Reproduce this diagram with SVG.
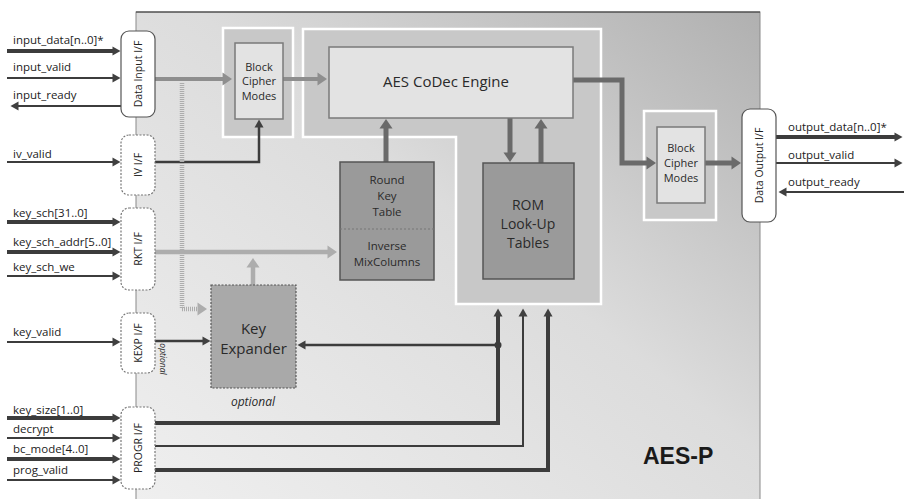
<svg xmlns="http://www.w3.org/2000/svg" width="904" height="499" viewBox="0 0 904 499">
<defs>
  <linearGradient id="bg" x1="0" y1="1" x2="1" y2="0">
    <stop offset="0" stop-color="#efefef"/>
    <stop offset="0.55" stop-color="#dcdcdc"/>
    <stop offset="1" stop-color="#b0b0b0"/>
  </linearGradient>
  <marker id="ad" markerUnits="userSpaceOnUse" markerWidth="9" markerHeight="10" refX="0.5" refY="5" orient="auto" overflow="visible">
    <path d="M0,0.5 L8,5 L0,9.5 z" fill="#404040"/>
  </marker>
  <marker id="ag" markerUnits="userSpaceOnUse" markerWidth="10" markerHeight="13" refX="0.5" refY="6.5" orient="auto" overflow="visible">
    <path d="M0,0 L9.5,6.5 L0,13 z" fill="#6a6a6a"/>
  </marker>
  <marker id="am" markerUnits="userSpaceOnUse" markerWidth="10" markerHeight="13" refX="0.5" refY="6.5" orient="auto" overflow="visible">
    <path d="M0,0 L9.5,6.5 L0,13 z" fill="#8e8e8e"/>
  </marker>
  <marker id="al" markerUnits="userSpaceOnUse" markerWidth="10" markerHeight="13" refX="0.5" refY="6.5" orient="auto" overflow="visible">
    <path d="M0,0 L9.5,6.5 L0,13 z" fill="#adadad"/>
  </marker>
</defs>
<style>
  .sig { font-family: "Open Sans", "Liberation Sans", sans-serif; font-size: 11.5px; fill: #222; }
  .lbl { font-family: "Open Sans", "Liberation Sans", sans-serif; fill: #2a2a2a; text-anchor: middle; }
  .ifl { font-family: "Open Sans", "Liberation Sans", sans-serif; font-size: 10.5px; fill: #222; text-anchor: middle; }
  .ifs { fill: #ffffff; stroke: #555; stroke-width: 1.2; }
  .ifd { fill: #ffffff; stroke: #777; stroke-width: 1.2; stroke-dasharray: 2 1.5; }
  .wire { fill: none; stroke: #3c3c3c; }
  .thick { stroke-width: 4; }
  .thin { stroke-width: 2; }
  .gwire { fill: none; stroke: #6a6a6a; stroke-width: 5; }
  .mwire { fill: none; stroke: #8e8e8e; stroke-width: 4; }
  .lwire { fill: none; stroke: #adadad; stroke-width: 4.5; }
  .region { fill: #c8c8c8; stroke: #ffffff; stroke-width: 2.5; }
  .light { fill: #e3e3e3; stroke: #7a7a7a; stroke-width: 1.5; }
  .dark { fill: #9a9a9a; stroke: #555; stroke-width: 1.5; }
</style>

<g id="main-box">
  <rect x="136" y="12" width="624" height="490" fill="url(#bg)" stroke="#8a8a8a" stroke-width="1"/>
  <line x1="136" y1="12" x2="760" y2="12" stroke="#333" stroke-width="1.2"/>
  <text x="643" y="464" font-family="Liberation Sans, Arial, sans-serif" font-weight="bold" font-size="23" fill="#1a1a1a">AES-P</text>
</g>

<g id="regions">
  <rect class="region" x="223" y="28" width="70" height="109"/>
  <polygon class="region" points="303,29 601,29 601,304 456,304 456,137 303,137"/>
  <rect class="region" x="644" y="111" width="72" height="109"/>
</g>

<g id="connectors">
  <!-- left inputs -->
  <line class="wire thick" x1="7" y1="51" x2="113" y2="51" marker-end="url(#ad)"/>
  <line class="wire thin" x1="7" y1="78" x2="113" y2="78" marker-end="url(#ad)"/>
  <line class="wire thin" x1="121" y1="106" x2="18" y2="106" marker-end="url(#ad)"/>
  <line class="wire thin" x1="7" y1="162" x2="113" y2="162" marker-end="url(#ad)"/>
  <line class="wire thick" x1="7" y1="222" x2="113" y2="222" marker-end="url(#ad)"/>
  <line class="wire thick" x1="7" y1="252" x2="113" y2="252" marker-end="url(#ad)"/>
  <line class="wire thin" x1="7" y1="276" x2="113" y2="276" marker-end="url(#ad)"/>
  <line class="wire thin" x1="7" y1="342" x2="113" y2="342" marker-end="url(#ad)"/>
  <line class="wire thick" x1="7" y1="418" x2="113" y2="418" marker-end="url(#ad)"/>
  <line class="wire thin" x1="7" y1="438" x2="113" y2="438" marker-end="url(#ad)"/>
  <line class="wire thick" x1="7" y1="459" x2="113" y2="459" marker-end="url(#ad)"/>
  <line class="wire thin" x1="7" y1="480" x2="113" y2="480" marker-end="url(#ad)"/>
  <!-- right outputs -->
  <line class="wire thick" x1="776" y1="137" x2="895" y2="137" marker-end="url(#ad)"/>
  <line class="wire thin" x1="776" y1="163" x2="895" y2="163" marker-end="url(#ad)"/>
  <line class="wire thin" x1="904" y1="192" x2="786" y2="192" marker-end="url(#ad)"/>
  <!-- data path -->
  <line class="mwire" x1="155" y1="79" x2="223" y2="79" marker-end="url(#am)"/>
  <line class="mwire" x1="283" y1="79" x2="318" y2="79" marker-end="url(#am)"/>
  <path class="gwire" d="M573,80 H622 V163 H647" marker-end="url(#ag)"/>
  <line class="gwire" x1="705" y1="163" x2="732" y2="163" marker-end="url(#ag)"/>
  <line class="gwire" x1="386" y1="162" x2="386" y2="128" marker-end="url(#ag)"/>
  <line class="gwire" x1="510" y1="118" x2="510" y2="153" marker-end="url(#ag)"/>
  <line class="gwire" x1="541" y1="163" x2="541" y2="128" marker-end="url(#ag)"/>
  <!-- IV path -->
  <path class="wire" stroke-width="2.5" d="M155,162 H259 V127" marker-end="url(#ad)"/>
  <!-- round key path -->
  <line class="lwire" x1="155" y1="252" x2="328" y2="252" marker-end="url(#al)"/>
  <line class="lwire" x1="253" y1="285" x2="253" y2="267" marker-end="url(#al)"/>
  <path class="lwire" stroke-dasharray="1 1" d="M182,83 V309 H198" marker-end="url(#al)"/>
  <!-- key expander inputs -->
  <line class="wire" stroke-width="2.5" x1="155" y1="341" x2="203" y2="341" marker-end="url(#ad)"/>
  <line class="wire" stroke-width="2.5" x1="498" y1="345" x2="305" y2="345" marker-end="url(#ad)"/>
  <circle cx="498" cy="345" r="3.5" fill="#3c3c3c"/>
  <!-- program lines -->
  <path class="wire thick" d="M155,423 H498 V316" marker-end="url(#ad)"/>
  <path class="wire thin" d="M155,446 H523 V316" marker-end="url(#ad)"/>
  <path class="wire thick" d="M155,470 H548 V316" marker-end="url(#ad)"/>
</g>

<g id="signal-labels">
  <text class="sig" x="13" y="44">input_data[n..0]*</text>
  <text class="sig" x="13" y="71">input_valid</text>
  <text class="sig" x="13" y="99">input_ready</text>
  <text class="sig" x="13" y="158">iv_valid</text>
  <text class="sig" x="13" y="217">key_sch[31..0]</text>
  <text class="sig" x="13" y="246">key_sch_addr[5..0]</text>
  <text class="sig" x="13" y="271">key_sch_we</text>
  <text class="sig" x="13" y="336">key_valid</text>
  <text class="sig" x="13" y="414">key_size[1..0]</text>
  <text class="sig" x="13" y="433">decrypt</text>
  <text class="sig" x="13" y="453">bc_mode[4..0]</text>
  <text class="sig" x="13" y="474">prog_valid</text>
  <text class="sig" x="788" y="131">output_data[n..0]*</text>
  <text class="sig" x="788" y="159">output_valid</text>
  <text class="sig" x="788" y="186">output_ready</text>
</g>

<g id="data-input-if">
  <rect class="ifs" x="121" y="31" width="34" height="86" rx="8"/>
  <text class="ifl" transform="translate(141.5,74) rotate(-90)">Data Input I/F</text>
</g>
<g id="iv-if">
  <rect class="ifd" x="121" y="135" width="34" height="60" rx="8"/>
  <text class="ifl" transform="translate(141.5,165) rotate(-90)">IV I/F</text>
</g>
<g id="rkt-if">
  <rect class="ifd" x="121" y="208" width="34" height="82" rx="8"/>
  <text class="ifl" transform="translate(141.5,249) rotate(-90)">RKT I/F</text>
</g>
<g id="kexp-if">
  <rect class="ifd" x="121" y="313" width="34" height="60" rx="8"/>
  <text class="ifl" transform="translate(141.5,343) rotate(-90)">KEXP I/F</text>
  <text class="lbl" font-size="8.5" font-style="italic" transform="translate(160,359) rotate(90)">optional</text>
</g>
<g id="progr-if">
  <rect class="ifd" x="121" y="407" width="34" height="82" rx="8"/>
  <text class="ifl" transform="translate(141.5,448) rotate(-90)">PROGR I/F</text>
</g>
<g id="data-output-if">
  <rect class="ifs" x="742" y="109" width="34" height="113" rx="8"/>
  <text class="ifl" transform="translate(762.5,165.5) rotate(-90)">Data Output I/F</text>
</g>

<g id="bcm-in">
  <rect class="light" x="235" y="43" width="48" height="76"/>
  <text class="lbl" font-size="11" x="259" y="71">Block</text>
  <text class="lbl" font-size="11" x="259" y="85">Cipher</text>
  <text class="lbl" font-size="11" x="259" y="100">Modes</text>
</g>
<g id="aes-engine">
  <rect class="light" x="329" y="47" width="244" height="71"/>
  <text class="lbl" font-size="15" x="446" y="87">AES CoDec Engine</text>
</g>
<g id="round-key-table">
  <rect class="dark" x="340" y="162" width="94" height="118"/>
  <line x1="340" y1="229" x2="434" y2="229" stroke="#777" stroke-width="1" stroke-dasharray="2 2"/>
  <text class="lbl" font-size="11.5" x="387" y="184">Round</text>
  <text class="lbl" font-size="11.5" x="387" y="200">Key</text>
  <text class="lbl" font-size="11.5" x="387" y="216">Table</text>
  <text class="lbl" font-size="11.5" x="387" y="250">Inverse</text>
  <text class="lbl" font-size="11.5" x="387" y="266">MixColumns</text>
</g>
<g id="rom-tables">
  <rect class="dark" x="483" y="163" width="91" height="116"/>
  <text class="lbl" font-size="14" x="528" y="210">ROM</text>
  <text class="lbl" font-size="14" x="528" y="229">Look-Up</text>
  <text class="lbl" font-size="14" x="528" y="248">Tables</text>
</g>
<g id="key-expander">
  <rect x="211" y="285" width="85" height="103" fill="#a9a9a9" stroke="#555" stroke-width="1.2" stroke-dasharray="2 1.5"/>
  <text class="lbl" font-size="15" x="253.5" y="334">Key</text>
  <text class="lbl" font-size="15" x="253.5" y="354">Expander</text>
  <text class="lbl" font-size="12" font-style="italic" x="253" y="406">optional</text>
</g>
<g id="bcm-out">
  <rect class="light" x="657" y="127" width="48" height="76"/>
  <text class="lbl" font-size="11" x="681" y="152">Block</text>
  <text class="lbl" font-size="11" x="681" y="167">Cipher</text>
  <text class="lbl" font-size="11" x="681" y="182">Modes</text>
</g>
</svg>
